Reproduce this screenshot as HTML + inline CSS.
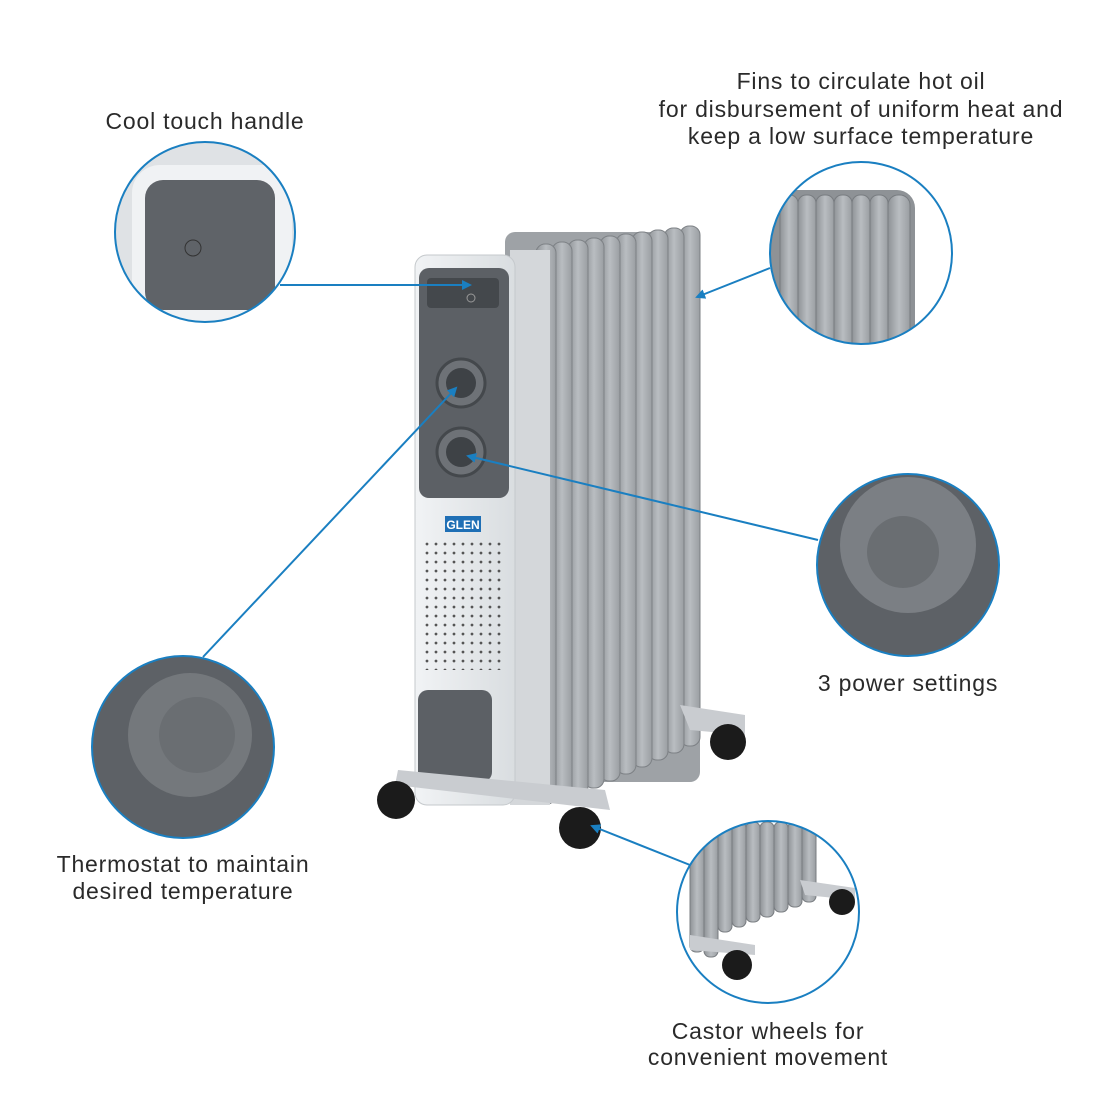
<!DOCTYPE html>
<html><head><meta charset="utf-8"><style>
html,body{margin:0;padding:0;background:#fff;}
.t{font-family:"Liberation Sans",sans-serif;font-size:23px;letter-spacing:0.8px;fill:#2a2a2a;text-anchor:middle;}
</style></head><body>
<svg width="1100" height="1100" viewBox="0 0 1100 1100" xmlns="http://www.w3.org/2000/svg">
<defs>
<linearGradient id="fin" x1="0" x2="1"><stop offset="0" stop-color="#8f9397"/><stop offset="0.5" stop-color="#b9bdc1"/><stop offset="1" stop-color="#9a9ea2"/></linearGradient>
<linearGradient id="panel" x1="0" x2="1"><stop offset="0" stop-color="#f1f3f5"/><stop offset="1" stop-color="#d9dde0"/></linearGradient>
<marker id="ar" markerWidth="10" markerHeight="10" refX="8" refY="5" orient="auto" markerUnits="userSpaceOnUse"><path d="M0,0 L10,5 L0,10 z" fill="#1a7fc1"/></marker>
<clipPath id="c1"><circle cx="205" cy="232" r="90"/></clipPath>
<clipPath id="c2"><circle cx="861" cy="253" r="91"/></clipPath>
<clipPath id="c3"><circle cx="908" cy="565" r="91"/></clipPath>
<clipPath id="c4"><circle cx="183" cy="747" r="91"/></clipPath>
<clipPath id="c5"><circle cx="768" cy="912" r="91"/></clipPath>
</defs>
<rect width="1100" height="1100" fill="#fff"/>

<g>
<rect x="505" y="232" width="195" height="550" rx="10" fill="#9ea2a6"/>
<g fill="url(#fin)" stroke="#7d8185" stroke-width="1">
<rect x="680" y="226" width="20" height="520" rx="9"/>
<rect x="664" y="228" width="20" height="525" rx="9"/>
<rect x="648" y="230" width="20" height="530" rx="9"/>
<rect x="632" y="232" width="20" height="535" rx="9"/>
<rect x="616" y="234" width="20" height="540" rx="9"/>
<rect x="600" y="236" width="20" height="545" rx="9"/>
<rect x="584" y="238" width="20" height="550" rx="9"/>
<rect x="568" y="240" width="20" height="555" rx="9"/>
<rect x="552" y="242" width="20" height="560" rx="9"/>
<rect x="536" y="244" width="20" height="560" rx="9"/>
</g>
<rect x="510" y="250" width="40" height="555" fill="#d4d7da"/>
<path d="M680 705 L745 715 L745 735 L690 730 Z" fill="#c9ccd0"/>
<circle cx="728" cy="742" r="18" fill="#1b1b1b"/>
<rect x="415" y="255" width="100" height="550" rx="12" fill="url(#panel)" stroke="#c5c9cc"/>
<rect x="419" y="268" width="90" height="230" rx="10" fill="#5c6065"/>
<rect x="427" y="278" width="72" height="30" rx="4" fill="#44484c"/>
<circle cx="471" cy="298" r="4" fill="none" stroke="#999"/>
<circle cx="461" cy="383" r="24" fill="#6e7277" stroke="#44484c" stroke-width="3"/>
<circle cx="461" cy="383" r="15" fill="#3e4246"/>
<circle cx="461" cy="452" r="24" fill="#6e7277" stroke="#44484c" stroke-width="3"/>
<circle cx="461" cy="452" r="15" fill="#3e4246"/>
<rect x="445" y="516" width="36" height="16" fill="#1f6fb5"/>
<text x="463" y="529" font-family="Liberation Sans,sans-serif" font-size="12" font-weight="bold" fill="#fff" text-anchor="middle">GLEN</text>
<pattern id="dots" width="9" height="9" patternUnits="userSpaceOnUse"><circle cx="4" cy="4" r="1.4" fill="#555"/></pattern>
<rect x="420" y="538" width="85" height="132" fill="url(#dots)"/>
<rect x="418" y="690" width="74" height="92" rx="10" fill="#5c6065"/>
<path d="M398 770 L605 790 L610 810 L395 785 Z" fill="#c9ccd0"/>
<circle cx="396" cy="800" r="19" fill="#1b1b1b"/>
<circle cx="580" cy="828" r="21" fill="#1b1b1b"/>
</g>

<g clip-path="url(#c1)">
<rect x="110" y="140" width="200" height="190" fill="#dfe2e5"/>
<rect x="132" y="165" width="160" height="160" rx="28" fill="#f0f2f4"/>
<rect x="145" y="180" width="130" height="130" rx="18" fill="#5f6368"/>
<circle cx="193" cy="248" r="8" fill="none" stroke="#333"/>
</g>
<circle cx="205" cy="232" r="90" fill="none" stroke="#1a7fc1" stroke-width="2"/>

<g clip-path="url(#c2)">
<rect x="760" y="160" width="200" height="190" fill="#fff"/>
<rect x="770" y="190" width="145" height="170" rx="18" fill="#8e9296"/>
<g fill="url(#fin)" stroke="#787c80">
<rect x="780" y="195" width="18" height="165" rx="8"/><rect x="798" y="195" width="18" height="165" rx="8"/>
<rect x="816" y="195" width="18" height="165" rx="8"/><rect x="834" y="195" width="18" height="165" rx="8"/>
<rect x="852" y="195" width="18" height="165" rx="8"/><rect x="870" y="195" width="18" height="165" rx="8"/>
<rect x="888" y="195" width="22" height="165" rx="10"/>
</g>
</g>
<circle cx="861" cy="253" r="91" fill="none" stroke="#1a7fc1" stroke-width="2"/>

<g clip-path="url(#c3)">
<rect x="815" y="470" width="190" height="190" fill="#fff"/>
<circle cx="908" cy="565" r="92" fill="#5d6166"/>
<circle cx="908" cy="545" r="68" fill="#7b7f84"/>
<circle cx="903" cy="552" r="36" fill="#6a6e72"/>
</g>
<circle cx="908" cy="565" r="91" fill="none" stroke="#1a7fc1" stroke-width="2"/>

<g clip-path="url(#c4)">
<rect x="90" y="655" width="190" height="190" fill="#fff"/>
<circle cx="183" cy="747" r="92" fill="#5d6166"/>
<circle cx="190" cy="735" r="62" fill="#74787c"/>
<circle cx="197" cy="735" r="38" fill="#6a6e72"/>
</g>
<circle cx="183" cy="747" r="91" fill="none" stroke="#1a7fc1" stroke-width="2"/>

<g clip-path="url(#c5)">
<rect x="676" y="820" width="190" height="190" fill="#fff"/>
<g fill="url(#fin)" stroke="#787c80">
<rect x="690" y="822" width="14" height="130" rx="6"/><rect x="704" y="822" width="14" height="135" rx="6"/>
<rect x="718" y="822" width="14" height="110" rx="6"/><rect x="732" y="822" width="14" height="105" rx="6"/>
<rect x="746" y="822" width="14" height="100" rx="6"/><rect x="760" y="822" width="14" height="95" rx="6"/>
<rect x="774" y="822" width="14" height="90" rx="6"/><rect x="788" y="822" width="14" height="85" rx="6"/>
<rect x="802" y="822" width="14" height="80" rx="6"/>
</g>
<path d="M800 880 L855 888 L855 900 L805 895 Z" fill="#c9ccd0"/>
<circle cx="842" cy="902" r="13" fill="#1b1b1b"/>
<path d="M690 935 L755 945 L755 955 L690 950 Z" fill="#c9ccd0"/>
<circle cx="737" cy="965" r="15" fill="#1b1b1b"/>
</g>
<circle cx="768" cy="912" r="91" fill="none" stroke="#1a7fc1" stroke-width="2"/>

<g stroke="#1a7fc1" stroke-width="2" fill="none" marker-end="url(#ar)">
<line x1="280" y1="285" x2="470" y2="285"/>
<line x1="770" y1="268" x2="697" y2="297"/>
<line x1="818" y1="540" x2="468" y2="456"/>
<line x1="203" y1="657" x2="456" y2="388"/>
<line x1="690" y1="865" x2="592" y2="826"/>
</g>

<text class="t" x="205" y="129">Cool touch handle</text>
<text class="t" x="861" y="89">Fins to circulate hot oil</text>
<text class="t" x="861" y="117">for disbursement of uniform heat and</text>
<text class="t" x="861" y="144">keep a low surface temperature</text>
<text class="t" x="908" y="691">3 power settings</text>
<text class="t" x="183" y="872">Thermostat to maintain</text>
<text class="t" x="183" y="899">desired temperature</text>
<text class="t" x="768" y="1039">Castor wheels for</text>
<text class="t" x="768" y="1065">convenient movement</text>
</svg>
</body></html>
